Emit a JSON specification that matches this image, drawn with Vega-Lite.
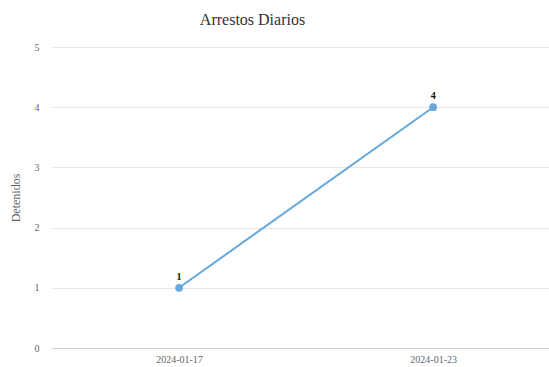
{
  "$schema": "https://vega.github.io/schema/vega-lite/v6.json",
  "autosize": "none",
  "width": 497,
  "height": 301,
  "padding": {"left": 52, "top": 47, "right": 0, "bottom": 19},
  "background": "white",
  "config": {"view": {"stroke": null}, "font": "Liberation Serif"},
  "title": {"text": "Arrestos Diarios", "font": "Liberation Serif", "fontSize": 16, "fontWeight": "normal", "color": "#333333", "anchor": "middle", "dx": -48, "offset": 14},
  "data": {"values": [
    {"fecha": "2024-01-17", "detenidos": 1},
    {"fecha": "2024-01-23", "detenidos": 4}
  ]},
  "encoding": {
    "x": {"field": "fecha", "type": "ordinal", "scale": {"type": "point", "padding": 0.478, "align": 0.523},
      "axis": {"title": null, "labelAngle": 0, "labelFont": "Liberation Serif", "labelFontSize": 10, "labelColor": "#666666", "ticks": false, "labelPadding": 6, "domainColor": "#c8d0d8", "grid": false}},
    "y": {"field": "detenidos", "type": "quantitative", "scale": {"domain": [0, 5]},
      "axis": {"title": "Detenidos", "titleFont": "Liberation Serif", "titleFontSize": 12, "titleFontWeight": "normal", "titleColor": "#666666", "titlePadding": 12, "values": [0,1,2,3,4,5], "labelFont": "Liberation Serif", "labelFontSize": 10, "labelColor": "#666666", "ticks": false, "labelPadding": 13, "domain": false, "gridColor": "#e6e6e6"}}
  },
  "layer": [
    {"mark": {"type": "line", "color": "#64a8dc", "strokeWidth": 2}},
    {"mark": {"type": "point", "filled": true, "opacity": 1, "color": "#64a8dc", "size": 60}},
    {"mark": {"type": "text", "dy": -11, "font": "Liberation Serif", "fontSize": 10, "fontWeight": "bold", "color": "#111111"}, "encoding": {"text": {"field": "detenidos", "type": "quantitative"}}}
  ]
}
